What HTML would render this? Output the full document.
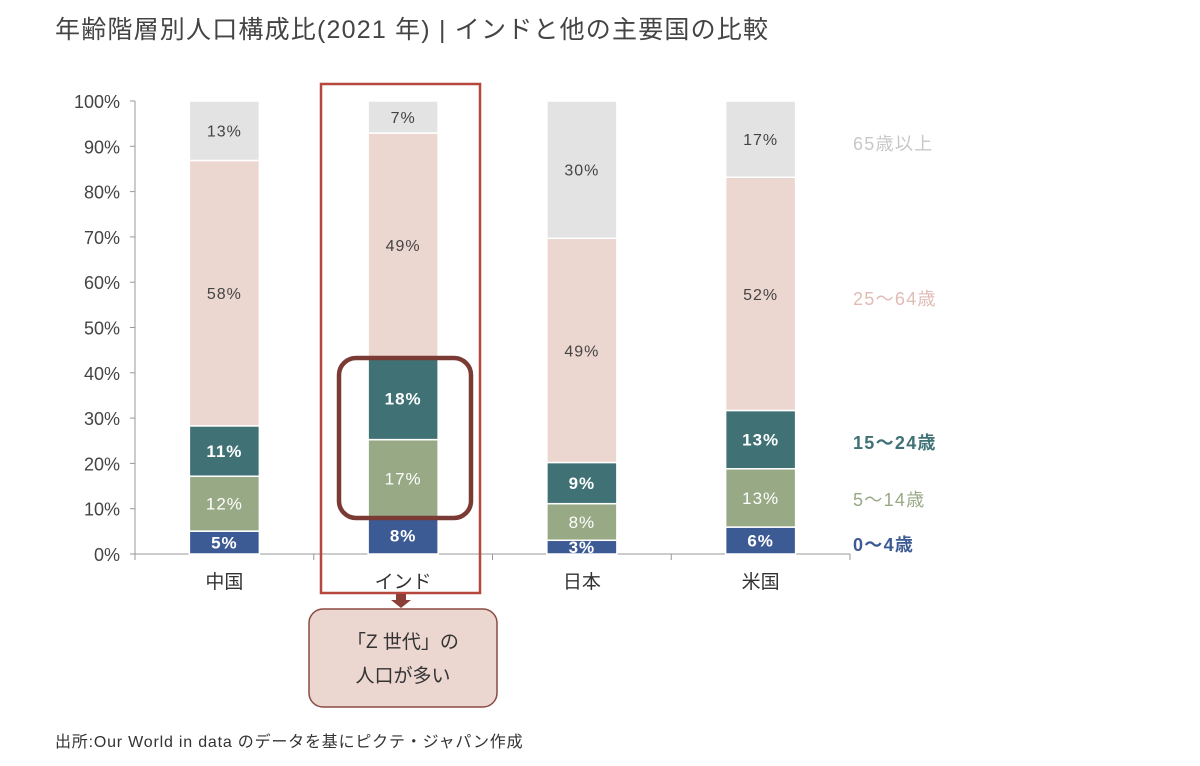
<!DOCTYPE html>
<html><head><meta charset="utf-8"><style>
body{margin:0;background:#fff;}
svg text{font-family:"Liberation Sans","Noto Sans CJK JP",sans-serif;}
</style></head><body>
<svg width="1200" height="761" viewBox="0 0 1200 761">
<text x="55" y="38" font-size="25" fill="#444" letter-spacing="1.2">年齢階層別人口構成比(2021 年) | インドと他の主要国の比較</text>
<g id="axes"></g>
<g id="bars"></g>
<rect x="321" y="84" width="159" height="509" fill="none" stroke="#b5473f" stroke-width="2.5"/>
<rect x="339" y="358" width="132" height="160" rx="17" fill="none" stroke="#7a3b34" stroke-width="4.5"/>
<path d="M396 594 h10 v6 h5 l-10 8 l-10 -8 h5 z" fill="#8b3f36"/>
<rect x="309" y="609" width="188" height="98" rx="14" fill="#ecd6d0" stroke="#8b4a42" stroke-width="1.5"/>
<text x="403" y="648" font-size="19" fill="#333" text-anchor="middle">「Z 世代」の</text>
<text x="403" y="682" font-size="19" fill="#333" text-anchor="middle">人口が多い</text>
<g id="legend"></g>
<text x="55" y="747" font-size="16" fill="#333" letter-spacing="0.8">出所:Our World in data のデータを基にピクテ・ジャパン作成</text>
</svg>
<script>
const categories=["中国","インド","日本","米国"];
const age0_4=[5,8,3,6];
const age5_14=[12,17,8,13];
const age15_24=[11,18,9,13];
const age25_64=[58,49,49,52];
const age65=[13,7,30,17];
const yTicks=[0,10,20,30,40,50,60,70,80,90,100];
const seriesNames=["0〜4歳","5〜14歳","15〜24歳","25〜64歳","65歳以上"];
const series=[age0_4,age5_14,age15_24,age25_64,age65];
const colors=["#3c5a93","#98a986","#3f7175","#ecd6d0","#e3e3e3"];
const textColors=["#fff","#fff","#fff","#444","#444"];
const bold=[true,false,true,false,false];
const NS="http://www.w3.org/2000/svg";
const y0=554,y100=101,xL=135,xR=850;
const y=v=>y0-(y0-y100)*v/100;
const band=(xR-xL)/categories.length;
const xc=i=>xL+band*(i+0.5);
const bw=70;
function mk(tag,attrs,parent){const e=document.createElementNS(NS,tag);for(const k in attrs)e.setAttribute(k,attrs[k]);parent.appendChild(e);return e;}
const ax=document.getElementById('axes'),bars=document.getElementById('bars'),lg=document.getElementById('legend');
let l=mk('line',{x1:xL,y1:y100,x2:xL,y2:y0,stroke:'#999'},ax);


l=mk('line',{x1:xL,y1:y0,x2:xR,y2:y0,stroke:'#999'},ax);


yTicks.forEach(t=>{
  const tk=mk('line',{x1:xL-5,y1:y(t),x2:xL,y2:y(t),stroke:'#999'},ax);
  
  
  const tx=mk('text',{x:xL-15,y:y(t)+7,'font-size':18,fill:'#444','text-anchor':'end'},ax);
  tx.textContent=t+'%';
  
  
});
for(let i=0;i<=categories.length;i++){
  const tk=mk('line',{x1:xL+band*i,y1:y0,x2:xL+band*i,y2:y0+6,stroke:'#999'},ax);
  
  
}
categories.forEach((c,i)=>{
  const tx=mk('text',{x:xc(i),y:588,'font-size':19,fill:'#333','text-anchor':'middle'},ax);
  tx.textContent=c;
  
  
  let total=0;series.forEach(s=>total+=s[i]);
  let cum=0;
  series.forEach((s,k)=>{
    const v=s[i]*100/total;
    const yt=y(cum+v),yb=y(cum);
    const r=mk('rect',{x:xc(i)-bw/2,y:yt,width:bw,height:yb-yt,fill:colors[k],stroke:'#fff','stroke-width':1.5},bars);
    
    
    const lb=mk('text',{x:xc(i),y:(yt+yb)/2+6,'font-size':k<3?17:16,fill:textColors[k],'text-anchor':'middle','font-weight':bold[k]?'bold':'normal','letter-spacing':1},bars);
    lb.textContent=s[i]+'%';
    
    
    cum+=v;
  });
});
const legY=[545,500,443,299,144];
const legC=["#3c5a93","#98a986","#3f7175","#e0bcb4","#c8c8c8"];
seriesNames.forEach((n,k)=>{
  const tx=mk('text',{x:853,y:legY[k]+6,'font-size':18,fill:legC[k],'font-weight':(k==0||k==2)?'bold':'normal','letter-spacing':1.3},lg);
  tx.textContent=n;
  
  
});
</script>
</body></html>
